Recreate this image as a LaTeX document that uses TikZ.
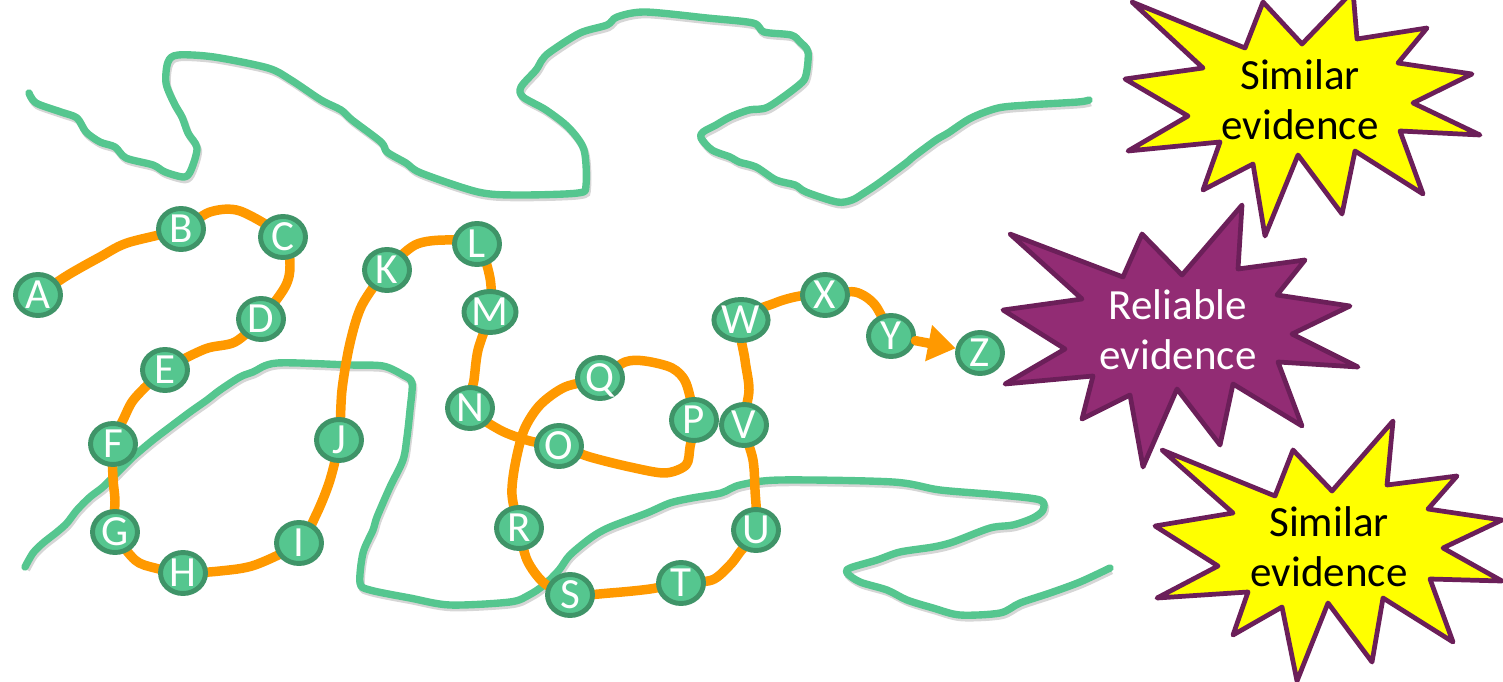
\documentclass[tikz,border=0pt]{standalone}
\usepackage{fontspec}
\newfontfamily\calibri{Carlito}
\usetikzlibrary{shapes.geometric,arrows.meta,backgrounds}
\definecolor{nodegreen}{HTML}{55C68F}
\definecolor{nodeedge}{HTML}{3F9468}
\definecolor{trail}{HTML}{FF9900}
\definecolor{staryellow}{HTML}{FFFF00}
\definecolor{starpurple}{HTML}{922C74}
\definecolor{staredge}{HTML}{6B1F59}
\tikzset{
    letter/.style={ellipse, draw=nodeedge, fill=nodegreen, line width=2.8pt,
        minimum width=0.9cm, minimum height=0.82cm, inner sep=0pt,
        text height=15.6pt, text depth=0pt, text=white,
        font=\calibri\fontsize{24.5}{24.5}\selectfont},
    trailline/.style={draw=trail, line width=5.4pt, line cap=round, line join=round},
    greenline/.style={draw=nodegreen, line width=4.2pt, line cap=round, line join=round,
        preaction={draw=black!16, line width=4.2pt, transform canvas={shift={(0.8pt,-1.5pt)}}}},
    simstar/.style={draw=staredge, fill=staryellow, line width=2.7pt, line join=round},
    relstar/.style={draw=staredge, fill=starpurple, line width=2.7pt, line join=round},
    startext/.style={align=center, inner sep=0pt, font=\calibri\fontsize{24.5}{28.4}\selectfont}
}
\begin{document}
\begin{tikzpicture}[x=0.02cm, y=-0.02cm]
    \clip (0,0) rectangle (1503,682);
    \node[letter] (A) at (38,295) {A};
    \node[letter] (B) at (181,229) {B};
    \node[letter] (C) at (283,237) {C};
    \node[letter] (D) at (261,319) {D};
    \node[letter] (E) at (165,370) {E};
    \node[letter] (F) at (113,444) {F};
    \node[letter] (G) at (115,532) {G};
    \node[letter] (H) at (183,573) {H};
    \node[letter] (I) at (299,543) {I};
    \node[letter] (J) at (339,440) {J};
    \node[letter] (K) at (387,270) {K};
    \node[letter] (L) at (477,244) {L};
    \node[letter] (M) at (490,312) {M};
    \node[letter] (N) at (470,408) {N};
    \node[letter] (O) at (559,446) {O};
    \node[letter] (P) at (694,420) {P};
    \node[letter] (Q) at (600,378) {Q};
    \node[letter] (R) at (519,528) {R};
    \node[letter] (S) at (570,595) {S};
    \node[letter] (T) at (681,583) {T};
    \node[letter] (U) at (756,530) {U};
    \node[letter] (V) at (744,425) {V};
    \node[letter] (W) at (741,320) {W};
    \node[letter] (X) at (825,295) {X};
    \node[letter] (Y) at (891,336) {Y};
    \node[letter] (Z) at (980,353) {Z};
    \begin{scope}[on background layer]
        \draw[greenline] plot[smooth, tension=0.5] coordinates {(29,93) (36,103) (61,112) (77,118) (86,132) (100,142) (115,147) (126,158) (153,165) (165,172) (184,177) (191,170) (197,148) (188,133) (182,117) (174,103) (166,83) (168,62) (178,55) (214,57) (268,68) (291,80) (321,100) (341,110) (352,120) (381,142) (387,152) (406,163) (421,173) (478,192) (517,195) (578,193) (586,185) (584,150) (569,128) (546,110) (523,97) (521,87) (536,70) (542,60) (550,52) (580,33) (607,25) (617,17) (645,12) (707,18) (753,23) (764,32) (791,35) (800,42) (808,52) (806,75) (799,85) (768,107) (749,110) (730,117) (716,125) (703,132) (701,138) (712,150) (730,157) (739,162) (756,167) (776,180) (795,185) (806,192) (837,202) (852,200) (864,193) (879,183) (906,163) (913,157) (936,140) (948,133) (971,118) (998,108) (1028,105) (1078,102) (1089,100)};
        \draw[greenline] plot[smooth, tension=0.5] coordinates {(25,567) (33,553) (43,543) (57,532) (67,523) (77,510) (90,497) (103,487) (117,473) (133,457) (153,440) (170,427) (190,412) (207,400) (220,390) (240,377) (253,372) (277,363) (350,365) (383,366) (403,375) (412,383) (410,410) (407,437) (403,460) (390,487) (377,517) (373,530) (363,553) (360,583) (370,590) (410,598) (450,605) (510,602) (529,595) (544,585) (559,570) (570,555) (592,537) (610,527) (647,513) (670,503) (692,498) (721,493) (740,485) (780,480) (893,482) (940,490) (1000,495) (1040,500) (1043,510) (1033,518) (1013,525) (990,528) (953,542) (933,547) (900,552) (877,560) (850,568) (847,573) (860,582) (887,590) (907,600) (933,608) (960,615) (1000,613) (1020,603) (1050,593) (1080,582) (1110,568)};
        \draw[trailline] plot[smooth] coordinates {(A.center) (68,275) (100,257) (127,243) (B.center) (210,212) (240,211) (C.center) (290,265) (285,287) (D.center) (235,342) (205,349) (E.center) (135,398) (124,418) (F.center) (113,478) (115,500) (G.center) (135,560) (155,568) (H.center) (220,571) (255,565) (I.center) (316,515) (330,480) (J.center) (342,390) (350,343) (362,305) (K.center) (415,245) (445,240) (L.center) (490,278) (M.center) (478,350) (474,380) (N.center) (500,430) (530,441) (O.center) (590,457) (630,467) (665,473) (686,465) (690,447) (P.center) (686,383) (672,368) (645,361) (625,362) (Q.center) (565,387) (540,405) (524,430) (515,465) (512,495) (R.center) (527,560) (544,583) (S.center) (610,593) (650,589) (T.center) (712,580) (730,565) (740,552) (U.center) (755,490) (753,460) (V.center) (749,390) (745,360) (W.center) (775,303) (800,296) (X.center) (855,292) (875,305) (Y.center)};
    \end{scope}
    \draw[trailline, -{Triangle[length=0.55cm, width=0.7cm]}] (Y) -- (Z);
    \draw[simstar] (1132,2) -- (1245,48) -- (1263,2) -- (1302,44) -- (1353,-9) -- (1357,39) -- (1427,28) -- (1398,63) -- (1472,74) -- (1413,103) -- (1480,135) -- (1400,131) -- (1423,194) -- (1355,151) -- (1342,214) -- (1298,155) -- (1265,236) -- (1253,164) -- (1203,190) -- (1220,142) -- (1128,151) -- (1188,116) -- (1125,79) -- (1203,68) -- cycle;
    \draw[relstar] (1010,234) -- (1123,277) -- (1142,234) -- (1182,275) -- (1242,205) -- (1238,269) -- (1305,260) -- (1277,295) -- (1350,306) -- (1292,334) -- (1358,367) -- (1278,362) -- (1302,426) -- (1233,384) -- (1220,445) -- (1177,389) -- (1143,467) -- (1130,395) -- (1082,419) -- (1093,376) -- (1005,384) -- (1065,349) -- (1003,310) -- (1082,299) -- cycle;
    \draw[simstar] (1162,450) -- (1275,496) -- (1293,450) -- (1332,491) -- (1393,421) -- (1387,485) -- (1457,476) -- (1428,509) -- (1502,520) -- (1443,548) -- (1502,581) -- (1430,579) -- (1453,642) -- (1383,598) -- (1372,662) -- (1328,603) -- (1297,681) -- (1282,607) -- (1233,635) -- (1248,592) -- (1157,598) -- (1218,566) -- (1155,526) -- (1233,513) -- cycle;
    \node[startext] (simtop) at (1300,100) {Similar\\evidence};
    \node[startext, text=white] (reliable) at (1178,330) {Reliable\\evidence};
    \node[startext] (simbottom) at (1329,547) {Similar\\evidence};
\end{tikzpicture}
\end{document}
